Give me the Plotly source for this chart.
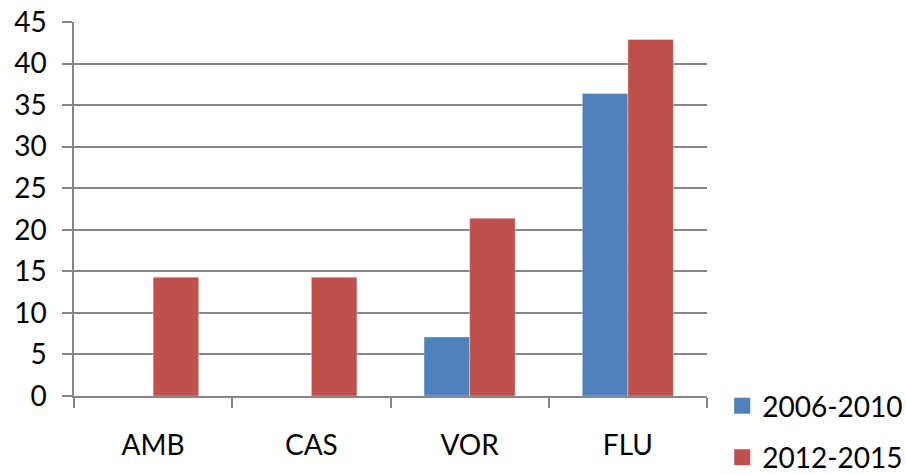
import plotly.graph_objects as go

categories = ["AMB", "CAS", "VOR", "FLU"]
series_names = ["2006-2010", "2012-2015"]
values_2006_2010 = [0, 0, 7.1, 36.4]
values_2012_2015 = [14.3, 14.3, 21.4, 42.9]
y_ticks = [0, 5, 10, 15, 20, 25, 30, 35, 40, 45]

colors = ["#4F81BD", "#C0504D"]
font_family = "Lato, 'Open Sans', sans-serif"

fig = go.Figure()
for i, (name, vals) in enumerate(zip(series_names, [values_2006_2010, values_2012_2015])):
    fig.add_trace(go.Bar(
        x=categories, y=vals, name=name,
        marker=dict(color=colors[i], line=dict(color="rgba(255,255,255,0.35)", width=1)),
        showlegend=False,
    ))
    # legend entry with a larger square swatch
    fig.add_trace(go.Scatter(
        x=[None], y=[None], mode="markers", name=name,
        marker=dict(symbol="square", size=20, color=colors[i]),
        legendgroup=name, showlegend=True,
    ))

fig.update_layout(
    width=906, height=475,
    margin=dict(l=74, r=199, t=22, b=78.5, autoexpand=False),
    paper_bgcolor="white", plot_bgcolor="white",
    barmode="group", bargap=0.424, bargroupgap=0,
    font=dict(family=font_family, size=28, color="black"),
    showlegend=True,
    legend=dict(
        x=1.024, y=0.04, xanchor="left", yanchor="top",
        traceorder="grouped", tracegroupgap=12,
        font=dict(size=28), bgcolor="rgba(0,0,0,0)",
        itemwidth=30,
    ),
)
fig.update_xaxes(
    range=[-0.5, 3.5], showline=True, linecolor="#868686", linewidth=1.5,
    ticks="outside", tickson="boundaries", ticklen=10, tickcolor="#868686", tickwidth=1.5,
    showgrid=False, ticklabelstandoff=24,
)
fig.update_yaxes(
    range=[0, 45], tickvals=y_ticks, showline=True, linecolor="#868686", linewidth=1.5,
    ticks="outside", ticklen=10, tickcolor="#868686", tickwidth=1.5,
    showgrid=True, gridcolor="#868686", gridwidth=1.5, zeroline=False,
    ticklabelstandoff=10,
)

fig.write_html("out.html")
